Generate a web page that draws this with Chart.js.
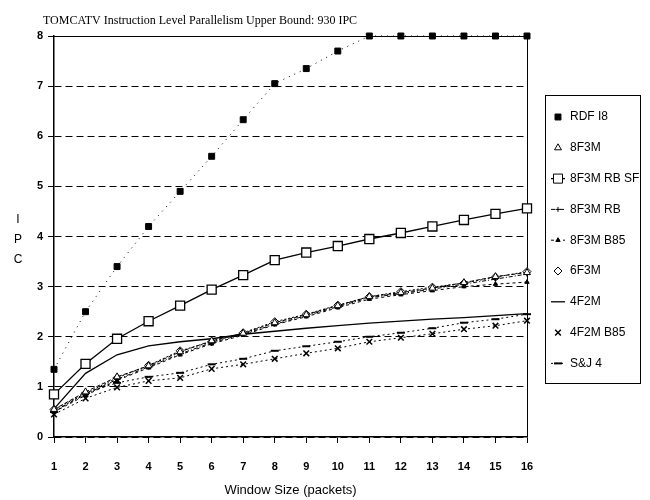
<!DOCTYPE html>
<html>
<head>
<meta charset="utf-8">
<script src="https://cdn.jsdelivr.net/npm/chart.js@4.4.1/dist/chart.umd.min.js"></script>
<style>
  html, body { margin: 0; padding: 0; background: #fff; }
  #wrap { width: 650px; height: 500px; }
</style>
</head>
<body>
<div id="wrap"><canvas id="ilp-chart" width="650" height="500"></canvas></div>
<script>
// window sizes (x axis)
var windows = ["1", "2", "3", "4", "5", "6", "7", "8", "9", "10", "11", "12", "13", "14", "15", "16"];
var yTicks = [0, 1, 2, 3, 4, 5, 6, 7, 8];

// IPC per configuration
var rdfI8    = [1.35, 2.5, 3.4, 4.2, 4.9, 5.6, 6.33, 7.05, 7.35, 7.7, 8, 8, 8, 8, 8, 8];
var f8f3m    = [0.55, 0.9, 1.2, 1.42, 1.7, 1.92, 2.07, 2.28, 2.44, 2.62, 2.8, 2.88, 2.97, 3.08, 3.2, 3.28];
var rbSf     = [0.85, 1.46, 1.96, 2.31, 2.62, 2.94, 3.23, 3.53, 3.68, 3.81, 3.95, 4.07, 4.2, 4.33, 4.45, 4.56];
var rb       = [0.52, 0.85, 1.15, 1.4, 1.66, 1.88, 2.05, 2.25, 2.42, 2.6, 2.78, 2.86, 2.95, 3.05, 3.15, 3.25];
var b85      = [0.5, 0.83, 1.13, 1.38, 1.64, 1.86, 2.03, 2.24, 2.4, 2.58, 2.75, 2.84, 2.92, 3.0, 3.05, 3.09];
var f6f3m    = [0.55, 0.87, 1.18, 1.43, 1.72, 1.9, 2.08, 2.3, 2.45, 2.63, 2.8, 2.9, 2.99, 3.07, 3.19, 3.3];
var f4f2m    = [0.56, 1.27, 1.64, 1.82, 1.9, 1.96, 2.05, 2.11, 2.17, 2.22, 2.27, 2.31, 2.35, 2.38, 2.42, 2.46];
var f4f2mB85 = [0.45, 0.77, 0.99, 1.12, 1.18, 1.36, 1.45, 1.56, 1.67, 1.77, 1.9, 1.98, 2.06, 2.15, 2.22, 2.32];
var sj4      = [0.5, 0.88, 1.08, 1.2, 1.28, 1.45, 1.56, 1.72, 1.81, 1.9, 2.0, 2.08, 2.17, 2.28, 2.35, 2.45];

var SANS = "'Liberation Sans', Arial, sans-serif";

function series(label, data, style) {
    var ds = {
        label: label,
        data: data,
        borderColor: "#000",
        backgroundColor: "#000",
        pointBorderColor: "#000",
        borderWidth: 1,
        tension: 0,
        clip: false
    };
    for (var k in style) ds[k] = style[k];
    return ds;
}

// legend box on the right, drawn by hand
var boxLegend = {
    id: "boxLegend",
    afterDraw: function (chart) {
        var ctx = chart.ctx;
        var x0 = 545, y0 = 95, w = 95, h = 288;
        ctx.save();
        ctx.strokeStyle = "#000";
        ctx.lineWidth = 1;
        ctx.strokeRect(x0 + 0.5, y0 + 0.5, w, h);
        ctx.font = "12px " + SANS;
        ctx.fillStyle = "#000";
        ctx.textBaseline = "middle";
        chart.data.datasets.forEach(function (ds, i) {
            var y = 117 + i * 30.8;
            var cx = 558;
            if (ds.legendLine) {
                ctx.save();
                ctx.lineWidth = ds.borderWidth;
                ctx.setLineDash(ds.borderDash || []);
                ctx.beginPath();
                ctx.moveTo(cx - 7, y);
                ctx.lineTo(cx + 7, y);
                ctx.stroke();
                ctx.restore();
            }
            if (ds.pointRadius > 0 && Chart.helpers && Chart.helpers.drawPoint) {
                ctx.save();
                ctx.fillStyle = ds.pointBackgroundColor || "#000";
                ctx.strokeStyle = "#000";
                ctx.lineWidth = ds.pointBorderWidth || 1;
                Chart.helpers.drawPoint(ctx, {
                    pointStyle: ds.pointStyle,
                    radius: ds.pointRadius,
                    rotation: 0,
                    borderWidth: ds.pointBorderWidth || 1
                }, cx, y);
                ctx.restore();
            }
            ctx.fillText(ds.label, 570, y);
        });
        ctx.restore();
    }
};

// title, stacked y label, top/right frame
var decor = {
    id: "decor",
    beforeDatasetsDraw: function (chart) {
        var a = chart.chartArea, ctx = chart.ctx;
        ctx.save();
        ctx.strokeStyle = "#000";
        ctx.lineWidth = 1;
        ctx.beginPath();
        ctx.moveTo(a.left, a.top + 0.5);
        ctx.lineTo(a.right, a.top + 0.5);
        ctx.moveTo(a.right + 0.5, a.top);
        ctx.lineTo(a.right + 0.5, a.bottom);
        ctx.stroke();
        ctx.restore();
    },
    afterDraw: function (chart) {
        var ctx = chart.ctx;
        ctx.save();
        ctx.fillStyle = "#000";
        ctx.font = "12px 'Liberation Serif', 'Times New Roman', serif";
        ctx.textBaseline = "alphabetic";
        ctx.fillText("TOMCATV Instruction Level Parallelism Upper Bound: 930 IPC", 43, 24);
        ctx.font = "12px " + SANS;
        ctx.textAlign = "center";
        ctx.textBaseline = "middle";
        ["I", "P", "C"].forEach(function (ch, i) {
            ctx.fillText(ch, 18, 220 + i * 20);
        });
        ctx.restore();
    }
};

new Chart(document.getElementById("ilp-chart"), {
    type: "line",
    data: {
        labels: windows,
        datasets: [
            series("RDF I8", rdfI8, { borderDash: [1, 5], pointStyle: "rect", pointRadius: 4.2, pointBackgroundColor: "#000" }),
            series("8F3M", f8f3m, { borderDash: [4, 2], pointStyle: "triangle", pointRadius: 4, pointBackgroundColor: "#fff" }),
            series("8F3M RB SF", rbSf, { borderWidth: 1.3, pointStyle: "rect", pointRadius: 6.4, pointBackgroundColor: "#fff", legendLine: true }),
            series("8F3M RB", rb, { borderDash: [4, 2, 1, 2], pointStyle: "cross", pointRadius: 2.5, legendLine: true }),
            series("8F3M B85", b85, { borderDash: [3, 3], pointStyle: "triangle", pointRadius: 2.5, pointBackgroundColor: "#000", legendLine: true }),
            series("6F3M", f6f3m, { borderDash: [2, 2], pointStyle: "rectRot", pointRadius: 4, pointBackgroundColor: "#fff" }),
            series("4F2M", f4f2m, { borderWidth: 1.3, pointStyle: "line", pointRadius: 0, legendLine: true }),
            series("4F2M B85", f4f2mB85, { borderDash: [2, 3], pointStyle: "crossRot", pointRadius: 4, pointBorderWidth: 1.5 }),
            series("S&J 4", sj4, { borderDash: [2, 3], pointStyle: "line", pointRadius: 4, pointBorderWidth: 2, legendLine: true })
        ]
    },
    options: {
        responsive: false,
        animation: false,
        layout: { padding: { top: 36, right: 123, left: 0, bottom: 0 } },
        plugins: {
            legend: { display: false },
            title: { display: false },
            tooltip: { enabled: false }
        },
        scales: {
            x: {
                offset: false,
                afterFit: function (s) { s.height = 63; },
                grid: { drawOnChartArea: false, color: "#000", tickLength: 6, tickBorderDash: [] },
                border: { display: true, color: "#000", width: 1.5 },
                ticks: { color: "#000", padding: 17, maxRotation: 0, autoSkip: false, font: { family: SANS, size: 11, weight: "bold" } },
                title: { display: true, text: "Window Size (packets)", color: "#000", font: { family: SANS, size: 13 }, padding: { top: 0, bottom: 2 } }
            },
            y: {
                min: yTicks[0],
                max: yTicks[yTicks.length - 1],
                afterFit: function (s) { s.width = 54; },
                afterBuildTicks: function (s) { s.ticks = yTicks.map(function (v) { return { value: v }; }); },
                grid: { color: "#000", lineWidth: 1, tickLength: 6, tickBorderDash: [] },
                border: { display: true, color: "#000", width: 1.5, dash: [7, 4] },
                ticks: { color: "#000", padding: 5, font: { family: SANS, size: 11, weight: "bold" } }
            }
        }
    },
    plugins: [decor, boxLegend]
});
</script>
</body>
</html>
